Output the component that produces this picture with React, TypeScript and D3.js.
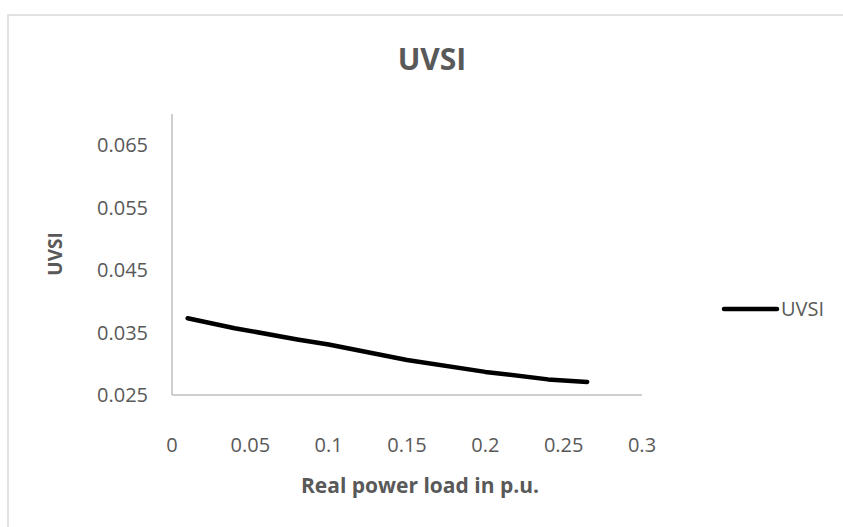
import { useEffect, useRef } from 'react';
import * as d3 from 'd3';

const loadPu = [0.01, 0.04, 0.08, 0.1, 0.15, 0.2, 0.24, 0.265];
const uvsi = [0.0373, 0.0357, 0.0339, 0.0331, 0.0306, 0.0287, 0.0275, 0.0271];
const xTicks = [0, 0.05, 0.1, 0.15, 0.2, 0.25, 0.3];
const yTicks = [0.025, 0.035, 0.045, 0.055, 0.065];

const W = 843, H = 527;
const PLOT = { l: 172, r: 642, t: 114, b: 395 };
const FONT = '"Open Sans", sans-serif';
const GREY = '#595959';

export default function App() {
  const svgRef = useRef<SVGSVGElement>(null);

  useEffect(() => {
    if (!svgRef.current) return;
    const svg = d3.select(svgRef.current);
    svg.selectAll('*').remove();

    const x = d3.scaleLinear().domain([0, 0.3]).range([PLOT.l, PLOT.r]);
    const y = d3.scaleLinear().domain([0.025, 0.07]).range([PLOT.b, PLOT.t]);

    svg.append('rect').attr('width', W).attr('height', H).attr('fill', '#fff');

    // chart frame (only top/left visible)
    svg.append('path')
      .attr('d', `M8,${H + 2} L8,15 L${W + 2},15`)
      .attr('fill', 'none').attr('stroke', '#d9d9d9').attr('stroke-width', 1.5);

    // title
    svg.append('text')
      .attr('x', 432).attr('y', 70).attr('text-anchor', 'middle')
      .attr('font-family', FONT).attr('font-size', 30).attr('font-weight', 700)
      .attr('fill', GREY).text('UVSI');

    // axes lines
    svg.append('line')
      .attr('x1', PLOT.l).attr('x2', PLOT.l).attr('y1', PLOT.t).attr('y2', PLOT.b)
      .attr('stroke', '#bfbfbf').attr('stroke-width', 1.5);
    svg.append('line')
      .attr('x1', PLOT.l).attr('x2', PLOT.r).attr('y1', PLOT.b).attr('y2', PLOT.b)
      .attr('stroke', '#bfbfbf').attr('stroke-width', 1.5);

    // tick labels
    yTicks.forEach(t => {
      svg.append('text')
        .attr('x', 148).attr('y', y(t)).attr('dy', '0.36em').attr('text-anchor', 'end')
        .attr('font-family', FONT).attr('font-size', 20).attr('fill', GREY)
        .text(String(t));
    });
    xTicks.forEach(t => {
      svg.append('text')
        .attr('x', x(t)).attr('y', 452).attr('text-anchor', 'middle')
        .attr('font-family', FONT).attr('font-size', 20).attr('fill', GREY)
        .text(String(t));
    });

    // axis titles
    svg.append('text')
      .attr('x', 420).attr('y', 493).attr('text-anchor', 'middle')
      .attr('font-family', FONT).attr('font-size', 21).attr('font-weight', 700)
      .attr('fill', GREY).text('Real power load in p.u.');
    svg.append('text')
      .attr('transform', `translate(62,254) rotate(-90)`)
      .attr('text-anchor', 'middle')
      .attr('font-family', FONT).attr('font-size', 19).attr('font-weight', 700)
      .attr('fill', GREY).text('UVSI');

    // series
    const pts = loadPu.map((v, i) => [v, uvsi[i]] as [number, number]);
    const line = d3.line<[number, number]>().x(d => x(d[0])).y(d => y(d[1]));
    svg.append('path')
      .attr('d', line(pts))
      .attr('fill', 'none').attr('stroke', '#000').attr('stroke-width', 4.5)
      .attr('stroke-linecap', 'round').attr('stroke-linejoin', 'round');

    // legend
    svg.append('line')
      .attr('x1', 724).attr('x2', 777).attr('y1', 309).attr('y2', 309)
      .attr('stroke', '#000').attr('stroke-width', 4.5).attr('stroke-linecap', 'round');
    svg.append('text')
      .attr('x', 781).attr('y', 309).attr('dy', '0.36em')
      .attr('font-family', FONT).attr('font-size', 20).attr('fill', GREY)
      .text('UVSI');
  }, []);

  return (
    <svg ref={svgRef} width={W} height={H}
      style={{ position: 'absolute', left: 0, top: 0 }} />
  );
}
